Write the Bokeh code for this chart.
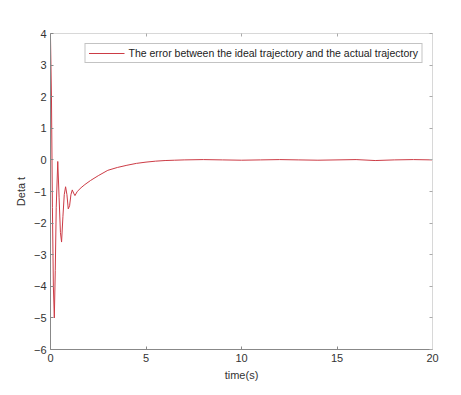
from bokeh.plotting import figure
from bokeh.models import LinearAxis, FixedTicker, Range1d, Legend, LegendItem
from bokeh.embed import file_html
from bokeh.resources import INLINE

t = [0, 0.05, 0.1, 0.15, 0.2, 0.25, 0.3, 0.38, 0.45, 0.52, 0.58, 0.65, 0.72, 0.79,
     0.86, 0.93, 1.0, 1.07, 1.14, 1.21, 1.28, 1.4, 1.6, 1.8, 2.1, 2.5, 3.0, 3.5,
     4.0, 4.5, 5.0, 5.5, 6.0, 6.5, 7, 8, 9, 10, 11, 12, 13, 14, 15, 16, 17, 18, 19, 20]
err = [3.85, 2.0, -1.5, -4.0, -5.0, -3.5, -1.5, -0.05, -1.2, -2.3, -2.6, -1.8, -1.1, -0.85,
       -1.1, -1.55, -1.45, -1.1, -0.95, -1.05, -1.13, -1.0, -0.88, -0.78, -0.65, -0.5, -0.33, -0.24,
       -0.17, -0.11, -0.07, -0.04, -0.02, -0.01, 0, 0.01, 0, -0.01, 0, 0.01, 0, -0.01, 0, 0.01, -0.02, 0, 0.01, 0]
x_ticks = [0, 5, 10, 15, 20]
y_ticks = [-6, -5, -4, -3, -2, -1, 0, 1, 2, 3, 4]
series_label = "The error between the ideal trajectory and the actual trajectory"

FONT = "Liberation Sans"

p = figure(width=455, height=390, output_backend="svg", toolbar_location=None,
           x_range=Range1d(0, 20), y_range=Range1d(-6, 4),
           min_border_left=50, min_border_right=23, min_border_top=33, min_border_bottom=41,
           x_axis_label="time(s)", y_axis_label="Deta t")
p.outline_line_color = None
p.xgrid.visible = False
p.ygrid.visible = False

r = p.line(t, err, line_color="#cc3b45", line_width=1)

for ax, ticks in ((p.xaxis[0], x_ticks), (p.yaxis[0], y_ticks)):
    ax.ticker = FixedTicker(ticks=ticks)
    ax.minor_tick_line_color = None
    ax.major_tick_in = 3
    ax.major_tick_out = 0
    ax.axis_line_color = "#888888"
    ax.major_tick_line_color = "#888888"
    ax.major_label_text_font = FONT
    ax.major_label_text_font_size = "11px"
    ax.major_label_text_color = "#333333"
    ax.axis_label_text_font = FONT
    ax.axis_label_text_font_size = "11px"
    ax.axis_label_text_font_style = "normal"
    ax.axis_label_text_color = "#333333"
    ax.major_label_standoff = 4
    ax.axis_label_standoff = 4

top = LinearAxis(ticker=FixedTicker(ticks=x_ticks),
                 major_label_overrides={v: "" for v in x_ticks},
                 major_tick_in=3, major_tick_out=0, minor_tick_line_color=None,
                 axis_line_color="#d8d8d8", major_tick_line_color="#aaaaaa")
right = LinearAxis(ticker=FixedTicker(ticks=y_ticks),
                   major_label_overrides={v: "" for v in y_ticks},
                   major_tick_in=3, major_tick_out=0, minor_tick_line_color=None,
                   axis_line_color="#d8d8d8", major_tick_line_color="#aaaaaa")
p.add_layout(top, "above")
p.add_layout(right, "right")

legend = Legend(items=[LegendItem(label=series_label, renderers=[r])],
                location="top_right", margin=10, padding=3, spacing=0,
                glyph_width=36, glyph_height=10, label_standoff=4,
                label_text_font=FONT, label_text_font_size="10.5px",
                label_text_color="#222222", label_height=10,
                border_line_color="#888888", border_line_width=1,
                background_fill_alpha=1)
p.add_layout(legend, "center")

open("out.html", "w").write(file_html(p, INLINE))
